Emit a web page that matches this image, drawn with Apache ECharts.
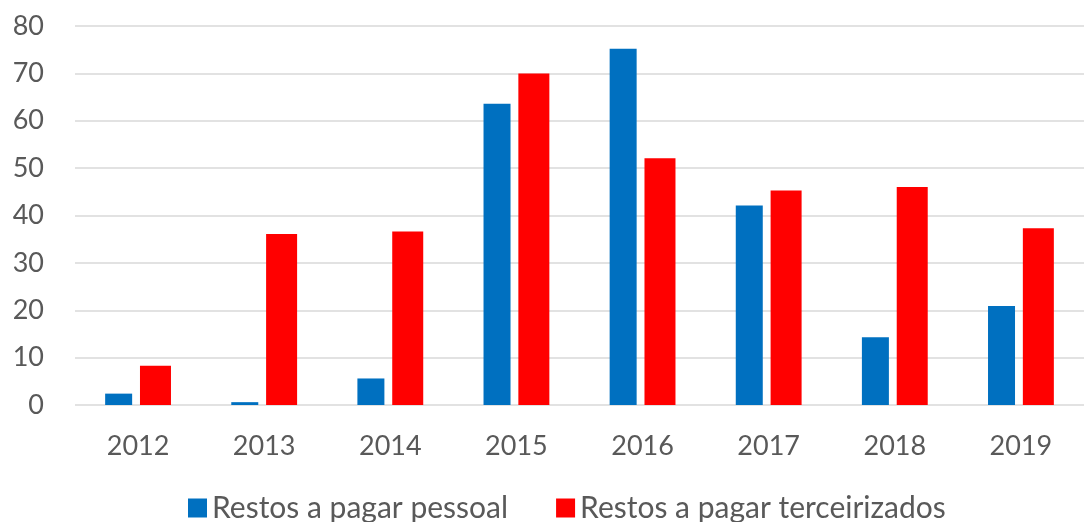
<!DOCTYPE html>
<html>
<head>
<meta charset="utf-8">
<script src="https://cdn.jsdelivr.net/npm/echarts@6/dist/echarts.min.js"></script>
<style>
  html, body { margin: 0; padding: 0; background: #fff; }
  #chart { width: 1084px; height: 522px; }
</style>
</head>
<body>
<div id="chart"></div>
<script>
  var years = ['2012', '2013', '2014', '2015', '2016', '2017', '2018', '2019'];
  var pessoal = [2.4, 0.6, 5.6, 63.6, 75.2, 42.1, 14.3, 20.9];
  var terceirizados = [8.3, 36.1, 36.6, 70.0, 52.1, 45.3, 46.0, 37.3];
  var yTicks = [0, 10, 20, 30, 40, 50, 60, 70, 80];

  var chart = echarts.init(document.getElementById('chart'));
  var textColor = '#595959';

  var option = {
    backgroundColor: '#fff',
    animation: false,
    grid: { left: 75, right: -8, top: 26, bottom: 117 },
    legend: {
      top: 488,
      left: 183,
      itemWidth: 19,
      itemHeight: 19,
      itemGap: 48,
      icon: 'rect',
      textStyle: { color: textColor, fontSize: 30, fontFamily: 'Lato' },
      data: ['Restos a pagar pessoal', 'Restos a pagar terceirizados']
    },
    xAxis: {
      type: 'category',
      data: years,
      axisLine: { show: false },
      axisTick: { show: false },
      axisLabel: { color: textColor, fontSize: 27, fontFamily: 'Lato', margin: 28 }
    },
    yAxis: {
      type: 'value',
      min: yTicks[0],
      max: yTicks[yTicks.length - 1],
      interval: 10,
      axisLine: { show: false },
      axisTick: { show: false },
      splitLine: { lineStyle: { color: '#d9d9d9', width: 1.5 } },
      axisLabel: { color: textColor, fontSize: 27, fontFamily: 'Lato', margin: 31 }
    },
    series: [
      {
        name: 'Restos a pagar pessoal',
        type: 'bar',
        data: pessoal,
        barWidth: 27,
        barGap: '29%',
        itemStyle: { color: '#0070c0' }
      },
      {
        name: 'Restos a pagar terceirizados',
        type: 'bar',
        data: terceirizados,
        barWidth: 31,
        itemStyle: { color: '#ff0000' }
      }
    ]
  };

  chart.setOption(option);
</script>
</body>
</html>
